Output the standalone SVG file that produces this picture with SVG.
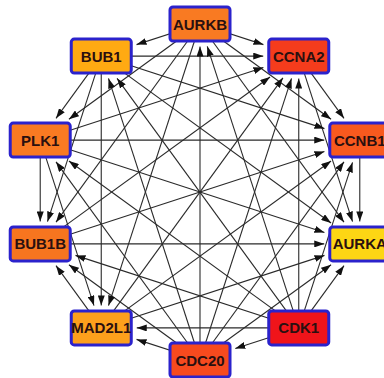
<svg xmlns="http://www.w3.org/2000/svg" width="384" height="378" viewBox="0 0 384 378">
<defs>
<marker id="arr" markerUnits="userSpaceOnUse" markerWidth="10" markerHeight="7" refX="10" refY="3.5" orient="auto">
<path d="M0,0 L10,3.5 L0,7 z" fill="#111"/>
</marker>
<style>
.e line{stroke:#2a2a2a;stroke-width:1.1;marker-end:url(#arr)}
.n rect{stroke:#2b22cc;stroke-width:3}
.n text{font-family:"Liberation Sans",Arial,sans-serif;font-weight:bold;font-size:15px;fill:#2a1010;text-anchor:middle}
</style>
</defs>
<rect width="384" height="378" fill="#fff"/>
<g id="edges" class="e">
<line x1="200" y1="24" x2="263.45" y2="44.62"/>
<line x1="298.75" y1="56.09" x2="343.99" y2="118.35"/>
<line x1="359.78" y1="140.09" x2="359.78" y2="221.41"/>
<line x1="298.75" y1="327.91" x2="343.99" y2="265.65"/>
<line x1="298.75" y1="327.91" x2="235.3" y2="348.53"/>
<line x1="200" y1="360" x2="136.55" y2="339.38"/>
<line x1="101.25" y1="327.91" x2="56.01" y2="265.65"/>
<line x1="40.22" y1="140.09" x2="40.22" y2="221.41"/>
<line x1="101.25" y1="56.09" x2="56.01" y2="118.35"/>
<line x1="200" y1="24" x2="136.55" y2="44.62"/>
<line x1="200" y1="24" x2="331.08" y2="119.24"/>
<line x1="298.75" y1="56.09" x2="352.53" y2="221.61"/>
<line x1="298.75" y1="327.91" x2="352.53" y2="162.39"/>
<line x1="200" y1="360" x2="331.08" y2="264.76"/>
<line x1="298.75" y1="327.91" x2="136.75" y2="327.91"/>
<line x1="200" y1="360" x2="68.92" y2="264.76"/>
<line x1="40.22" y1="140.09" x2="94" y2="305.61"/>
<line x1="101.25" y1="56.09" x2="47.47" y2="221.61"/>
<line x1="200" y1="24" x2="68.92" y2="119.24"/>
<line x1="101.25" y1="56.09" x2="263.25" y2="56.09"/>
<line x1="200" y1="24" x2="343.99" y2="222.17"/>
<line x1="298.75" y1="327.91" x2="298.75" y2="78.59"/>
<line x1="200" y1="360" x2="343.99" y2="161.83"/>
<line x1="101.25" y1="327.91" x2="324.48" y2="255.38"/>
<line x1="298.75" y1="327.91" x2="75.52" y2="255.38"/>
<line x1="200" y1="360" x2="56.01" y2="161.83"/>
<line x1="101.25" y1="56.09" x2="101.25" y2="305.41"/>
<line x1="200" y1="24" x2="56.01" y2="222.17"/>
<line x1="40.22" y1="140.09" x2="263.45" y2="67.56"/>
<line x1="101.25" y1="56.09" x2="324.48" y2="128.62"/>
<line x1="298.75" y1="327.91" x2="207.25" y2="46.3"/>
<line x1="200" y1="360" x2="291.5" y2="78.39"/>
<line x1="101.25" y1="327.91" x2="331.08" y2="160.94"/>
<line x1="40.22" y1="243.91" x2="324.28" y2="243.91"/>
<line x1="298.75" y1="327.91" x2="68.92" y2="160.94"/>
<line x1="200" y1="360" x2="108.5" y2="78.39"/>
<line x1="200" y1="24" x2="108.5" y2="305.61"/>
<line x1="40.22" y1="243.91" x2="270.05" y2="76.94"/>
<line x1="40.22" y1="140.09" x2="324.28" y2="140.09"/>
<line x1="101.25" y1="56.09" x2="331.08" y2="223.06"/>
<line x1="200" y1="360" x2="200" y2="46.5"/>
<line x1="101.25" y1="327.91" x2="282.96" y2="77.83"/>
<line x1="40.22" y1="243.91" x2="324.48" y2="151.56"/>
<line x1="40.22" y1="140.09" x2="324.48" y2="232.44"/>
<line x1="298.75" y1="327.91" x2="117.04" y2="78.35"/>
</g>
<g id="AURKB" class="n"><rect x="170" y="7" width="60" height="34" rx="3" fill="#f97a22"/><text x="200" y="29.5">AURKB</text></g>
<g id="CCNA2" class="n"><rect x="268.75" y="39.09" width="60" height="34" rx="3" fill="#f53c1c"/><text x="298.75" y="61.6">CCNA2</text></g>
<g id="CCNB1" class="n"><rect x="329.78" y="123.09" width="60" height="34" rx="3" fill="#f8591e"/><text x="359.78" y="145.6">CCNB1</text></g>
<g id="AURKA" class="n"><rect x="329.78" y="226.91" width="60" height="34" rx="3" fill="#fdd614"/><text x="359.78" y="249.4">AURKA</text></g>
<g id="CDK1" class="n"><rect x="268.75" y="310.91" width="60" height="34" rx="3" fill="#f0141a"/><text x="298.75" y="333.4">CDK1</text></g>
<g id="CDC20" class="n"><rect x="170" y="343" width="60" height="34" rx="3" fill="#f74a1e"/><text x="200" y="365.5">CDC20</text></g>
<g id="MAD2L1" class="n"><rect x="71.25" y="310.91" width="60" height="34" rx="3" fill="#fda01c"/><text x="101.25" y="333.4">MAD2L1</text></g>
<g id="BUB1B" class="n"><rect x="10.22" y="226.91" width="60" height="34" rx="3" fill="#f7751f"/><text x="40.22" y="249.4">BUB1B</text></g>
<g id="PLK1" class="n"><rect x="10.22" y="123.09" width="60" height="34" rx="3" fill="#f97a22"/><text x="40.22" y="145.6">PLK1</text></g>
<g id="BUB1" class="n"><rect x="71.25" y="39.09" width="60" height="34" rx="3" fill="#ffaa12"/><text x="101.25" y="61.6">BUB1</text></g>
</svg>
